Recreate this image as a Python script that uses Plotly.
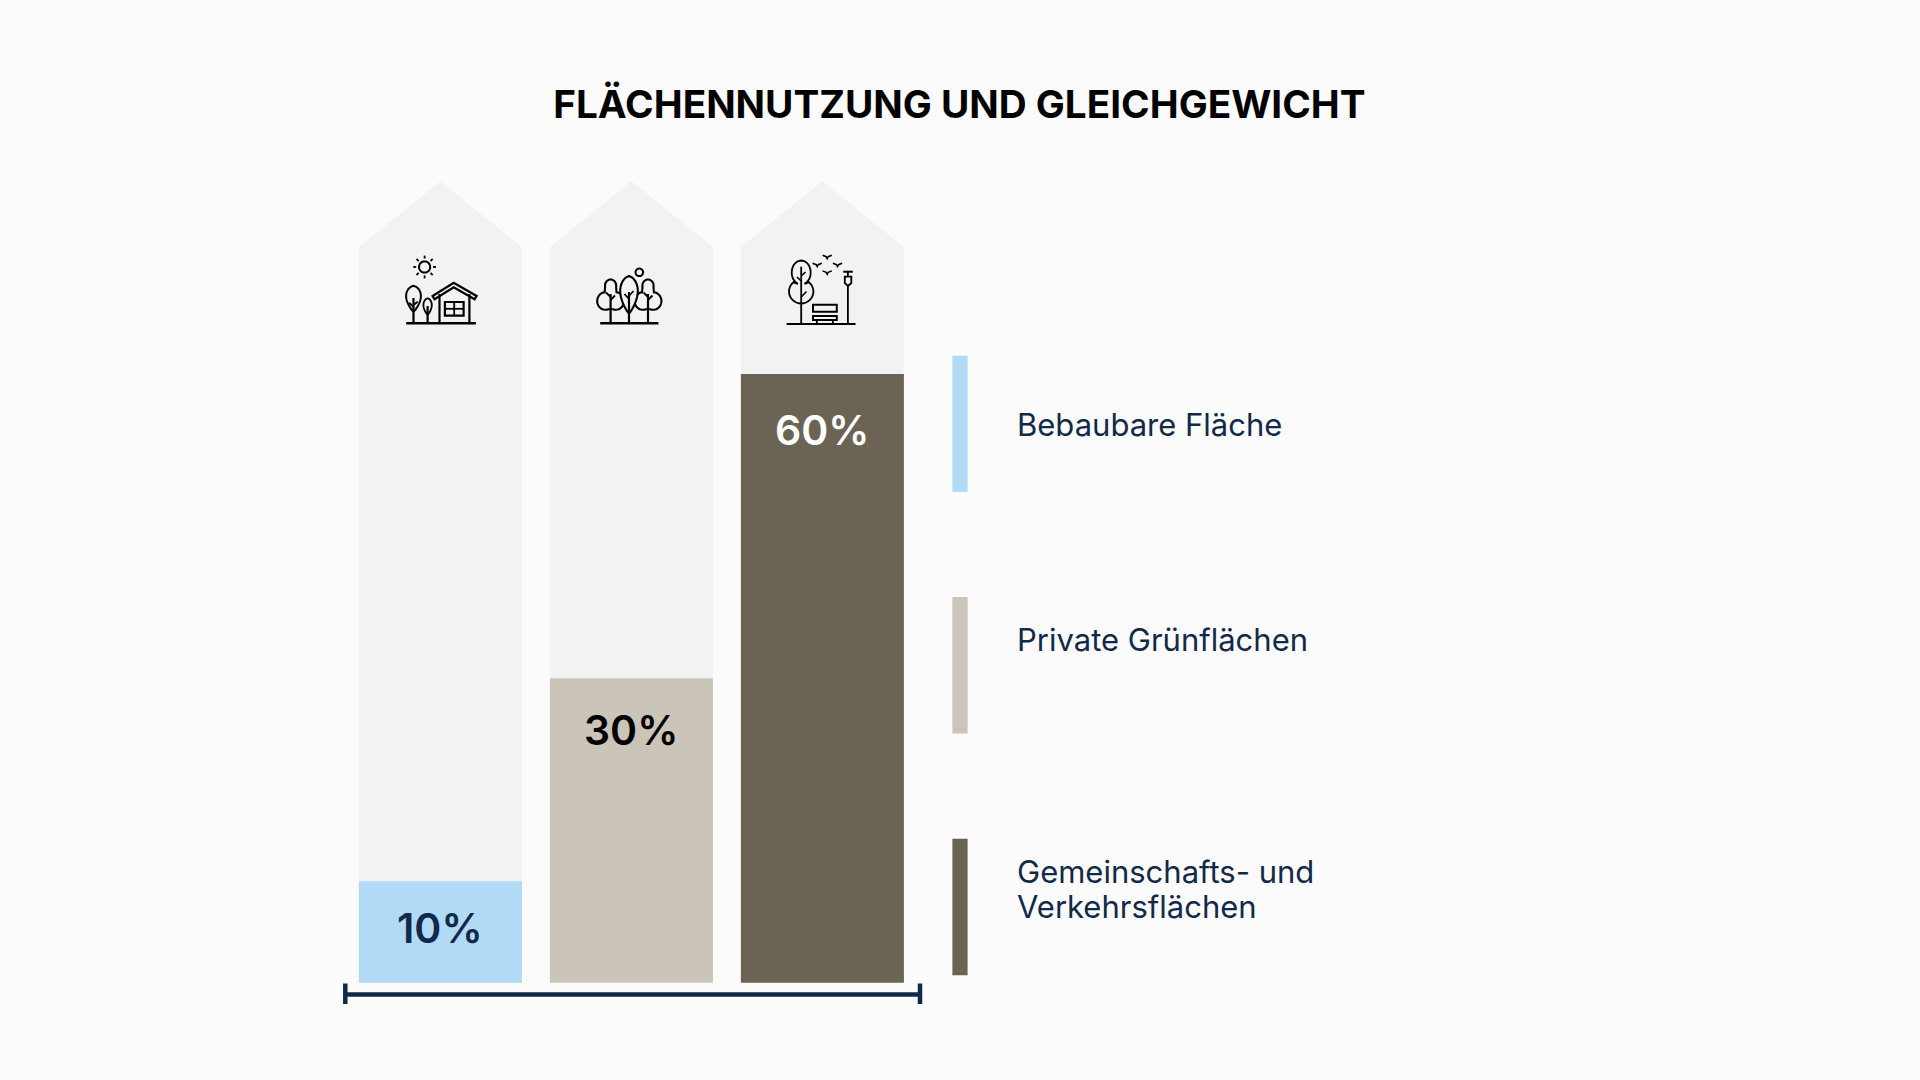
import math
import plotly.graph_objects as go

# chart values
categories = ['Bebaubare Fläche', 'Private Grünflächen', 'Gemeinschafts- und<br>Verkehrsflächen']
values = [10, 30, 60]
value_labels = ['10%', '30%', '60%']
bar_colors = ['#b0daf5', '#cbc4b8', '#6b6353']
label_colors = ['#12294a', '#000000', '#ffffff']
label_shift = [-47, -52, -56]

W = 1920
H = 1080
FONT = 'Inter'
NAVY = '#12294a'
BG = '#fbfbfb'
HOUSE = '#f1f2f4'

# the plot fills the whole page, so the axes are set to put the bars where they belong
PX_PER_CAT = 191
PX_PER_PCT = 10.145
FIRST_X = 440.4
BASE_Y = 982.7
BAR_WIDTH = 163 / PX_PER_CAT
SHOULDER = 72.5
APEX = 79


def px(x):
    return x / W


def py(y):
    return 1 - y / H


def poly(points, closed=False):
    d = 'M ' + ' L '.join(f'{px(x):.5f},{py(y):.5f}' for x, y in points)
    return d + (' Z' if closed else '')


def arc(cx, cy, rx, ry, a0, a1, n=24):
    pts = []
    for i in range(n + 1):
        a = math.radians(a0 + (a1 - a0) * i / n)
        pts.append((cx + rx * math.cos(a), cy + ry * math.sin(a)))
    return pts


def cloud(cx, top):
    # three lobes, from the base round the left, over the top and back
    pts = arc(cx - 5.2, top + 21.5, 8.2, 8.8, 70, 265)
    pts += arc(cx, top + 6.2, 5.6, 6.2, 170, 370)
    pts += arc(cx + 5.2, top + 21.5, 8.2, 8.8, -85, 110)
    return pts


def teardrop(cx, top, bottom, half):
    h = bottom - top
    left = []
    right = []
    for i in range(25):
        t = i / 24
        w = half * math.sin(math.pi * t ** 0.75) ** 0.8
        left.append((cx - w, top + h * t))
        right.append((cx + w, top + h * t))
    return left + right[::-1]


def rect(x0, y0, x1, y1):
    return [(x0, y0), (x1, y0), (x1, y1), (x0, y1)]


def stroke(d, width=2.0, color='#000000'):
    return dict(type='path', xref='paper', yref='paper', path=d, layer='above',
                line=dict(color=color, width=width))


icons = []

# house icon
icons.append(stroke(poly([(406.2, 323.3), (475.9, 323.3)]), 2.4))
for a in range(0, 360, 45):
    c = math.cos(math.radians(a))
    s = math.sin(math.radians(a))
    icons.append(stroke(poly([(424.6 + 8.4 * c, 267 + 8.4 * s), (424.6 + 11.4 * c, 267 + 11.4 * s)]), 1.8))
icons.append(stroke(poly(arc(424.6, 267, 5.6, 5.6, 0, 360), True), 2))
icons.append(stroke(poly(teardrop(413.5, 285.7, 311.7, 7.4), True), 2))
icons.append(stroke(poly([(413.5, 298), (413.5, 323.3)]), 2.2))
icons.append(stroke(poly([(408.9, 302.7), (413.5, 306.7)]), 1.8))
icons.append(stroke(poly([(417.6, 301.7), (413.5, 305)]), 1.8))
icons.append(stroke(poly(teardrop(427.6, 298.3, 315, 4.2), True), 1.8))
icons.append(stroke(poly([(427.6, 306), (427.6, 323.3)]), 2.2))
icons.append(stroke(poly([(432.6, 296), (453.7, 282.7), (476.6, 296), (474.6, 299.3),
                          (453.7, 287.3), (434.6, 299.3)], True), 2.2))
icons.append(stroke(poly([(439.5, 294), (439.5, 323.3)]), 2.2))
icons.append(stroke(poly([(469.4, 294), (469.4, 323.3)]), 2.2))
icons.append(stroke(poly(rect(444.9, 302, 463.6, 315.7), True), 2.2))
icons.append(stroke(poly([(454.2, 302), (454.2, 315.7)]), 1.8))
icons.append(stroke(poly([(444.9, 308.8), (463.6, 308.8)]), 1.8))

# trees icon
icons.append(stroke(poly([(600.2, 323.3), (658.4, 323.3)]), 2.4))
icons.append(stroke(poly(cloud(610.6, 279.5), True), 2.1))
icons.append(stroke(poly([(610.6, 294), (610.6, 323.3)]), 2.2))
icons.append(stroke(poly([(606, 292.5), (610.6, 297)]), 1.8))
icons.append(stroke(poly([(615, 295.5), (610.6, 300)]), 1.8))
icons.append(stroke(poly(cloud(648, 279.5), True), 2.1))
icons.append(stroke(poly([(648, 294), (648, 323.3)]), 2.2))
icons.append(stroke(poly([(643.5, 292.5), (648, 297)]), 1.8))
icons.append(stroke(poly([(652.5, 295.5), (648, 300)]), 1.8))
icons.append(dict(type='path', xref='paper', yref='paper', layer='above',
                  path=poly(teardrop(629, 276, 313.5, 8.8), True),
                  fillcolor=HOUSE, line=dict(color='#000000', width=2.1)))
icons.append(stroke(poly([(629, 292), (629, 323.3)]), 2.2))
icons.append(stroke(poly([(624.5, 294), (629, 299)]), 1.8))
icons.append(stroke(poly([(633.5, 291), (629, 296)]), 1.8))
icons.append(stroke(poly(arc(639.3, 272.3, 3.8, 3.8, 0, 360), True), 2))

# park icon
icons.append(stroke(poly([(786.6, 324), (855.5, 324)]), 2.2))
crown = arc(801.2, 291.5, 12.2, 12, -50, 230) + arc(801.2, 272.5, 9.5, 12, 110, 430)
icons.append(stroke(poly(crown, True), 1.8))
icons.append(stroke(poly([(801.2, 266.7), (801.2, 324)]), 1.8))
icons.append(stroke(poly([(801.2, 276), (805.5, 272)]), 1.6))
icons.append(stroke(poly([(801.2, 281), (797, 277)]), 1.6))
icons.append(stroke(poly([(801.2, 297), (806.5, 291.5)]), 1.6))
icons.append(stroke(poly(rect(813, 304.7, 836.8, 311.7), True), 2))
icons.append(stroke(poly(rect(813, 316, 836.8, 320), True), 2))
icons.append(stroke(poly([(816.9, 320), (816.9, 324)]), 1.8))
icons.append(stroke(poly([(832.9, 320), (832.9, 324)]), 1.8))
icons.append(stroke(poly([(847.9, 286), (847.9, 324)]), 1.8))
icons.append(stroke(poly([(843.2, 271.7), (852.8, 271.7)]), 2))
icons.append(stroke(poly([(847.9, 271.7), (847.9, 276.7)]), 1.8))
icons.append(stroke(poly([(844.8, 276.7), (851.3, 276.7), (851.3, 283), (847.9, 286), (844.8, 283)], True), 1.8))
for bx, by in [(827.2, 256.7), (817.2, 264.7), (837.5, 264.7), (827.2, 272.3)]:
    icons.append(stroke(poly([(bx - 4.6, by - 1.4), (bx - 1, by), (bx, by + 2), (bx + 1, by), (bx + 4.6, by - 1.4)]), 1.5))

# house shaped backgrounds behind the bars, built from the bar slots
houses = []
half = BAR_WIDTH / 2
for i in range(len(categories)):
    d = (f'M {i - half},0 L {i - half},{SHOULDER} L {i},{APEX} '
         f'L {i + half},{SHOULDER} L {i + half},0 Z')
    houses.append(dict(type='path', xref='x', yref='y', path=d, layer='below',
                       fillcolor=HOUSE, line=dict(width=0)))

# bracket under the bars
bracket = [
    stroke(poly([(345.3, 994.5), (920, 994.5)]), 4.5, NAVY),
    stroke(poly([(345.3, 983.5), (345.3, 1004)]), 4.5, NAVY),
    stroke(poly([(920, 983.5), (920, 1004)]), 4.5, NAVY),
]

# legend swatches and names
legend_tops = [355.7, 597, 838.8]
legend_text_y = [[424.3], [639.2], [871.2, 906.8]]
swatches = []
legend_notes = []
for i in range(len(categories)):
    swatches.append(dict(type='rect', xref='paper', yref='paper', layer='above',
                         x0=px(952.4), x1=px(967.6),
                         y0=py(legend_tops[i]), y1=py(legend_tops[i] + 136.4),
                         fillcolor=bar_colors[i], line=dict(width=0)))
    for line, y in zip(categories[i].split('<br>'), legend_text_y[i]):
        legend_notes.append(dict(xref='paper', yref='paper', x=px(1014.5), y=py(y),
                                 text=line, showarrow=False, xanchor='left', yanchor='middle',
                                 align='left', font=dict(family=FONT, size=31, color=NAVY)))

value_notes = []
for i in range(len(categories)):
    value_notes.append(dict(x=categories[i], y=values[i], yshift=label_shift[i], text=value_labels[i],
                            showarrow=False, xanchor='center', yanchor='middle',
                            font=dict(family=FONT, size=41, color=label_colors[i], weight=600)))

fig = go.Figure(go.Bar(x=categories, y=values, width=BAR_WIDTH,
                       marker=dict(color=bar_colors, line=dict(width=0)),
                       hoverinfo='skip', showlegend=False))

fig.update_layout(
    width=W,
    height=H,
    margin=dict(l=0, r=0, t=0, b=0),
    paper_bgcolor=BG,
    plot_bgcolor=BG,
    title=dict(text='<b>FLÄCHENNUTZUNG UND GLEICHGEWICHT</b>', x=px(959.4), y=py(104.7),
               xref='paper', yref='paper', xanchor='center', yanchor='middle',
               font=dict(family=FONT, size=38.7, color='#000000')),
    xaxis=dict(visible=False, type='category', categoryorder='array', categoryarray=categories,
               range=[-FIRST_X / PX_PER_CAT, (W - FIRST_X) / PX_PER_CAT]),
    yaxis=dict(visible=False, range=[-(H - BASE_Y) / PX_PER_PCT, BASE_Y / PX_PER_PCT]),
    shapes=houses + icons + bracket + swatches,
    annotations=value_notes + legend_notes,
)

# the page's own 8px body margin would push the chart off its spot
fig.write_html("out.html", config=dict(displayModeBar=False),
               post_script="document.body.style.margin='0';")
